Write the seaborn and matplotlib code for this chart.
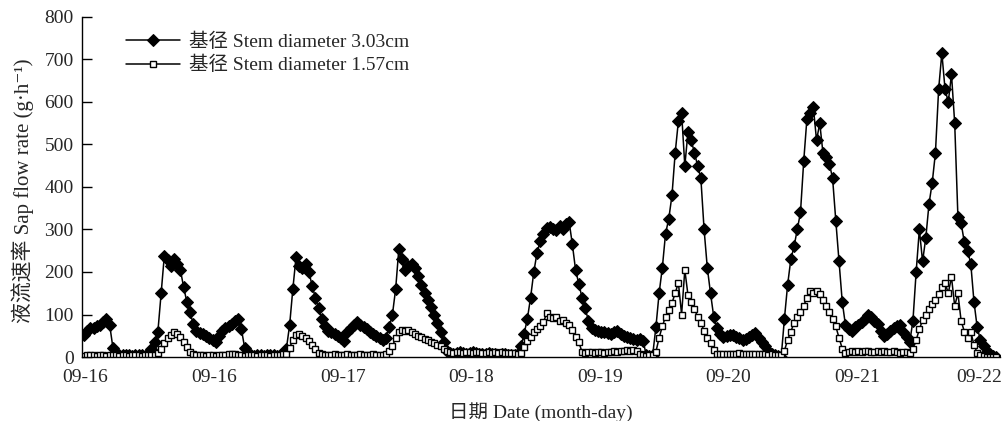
import numpy as np
import pandas as pd
import matplotlib
matplotlib.use("Agg")
import matplotlib.pyplot as plt
import matplotlib.transforms as mtransforms
import seaborn as sns

# ---------------- data ----------------
series_names = ["基径 Stem diameter 3.03cm", "基径 Stem diameter 1.57cm"]
tick_labels = ["09-16", "09-16", "09-17", "09-18", "09-19", "09-20", "09-21", "09-22"]

sap_303 = [
    52, 62, 68, 68, 72, 75, 82, 90, 75, 22,
    8, 5, 4, 5, 4, 3, 4, 5, 4, 3,
    8, 18, 35, 60, 150, 238, 228, 215, 230, 220,
    205, 165, 130, 105, 78, 62, 57, 55, 50, 45,
    40, 35, 50, 62, 68, 72, 78, 85, 90, 65,
    22, 5, 4, 3, 5, 4, 3, 4, 5, 4,
    3, 5, 8, 20, 75, 160, 235, 215, 210, 220,
    200, 168, 140, 115, 90, 72, 62, 58, 55, 50,
    45, 38, 60, 68, 75, 82, 76, 70, 65, 60,
    55, 50, 45, 40, 45, 70, 100, 160, 255, 230,
    205, 215, 220, 210, 190, 170, 150, 135, 118, 100,
    80, 60, 35, 15, 10, 8, 10, 12, 10, 8,
    10, 12, 10, 8, 6, 8, 10, 8, 6, 5,
    6, 8, 5, 4, 5, 8, 25, 55, 90, 140,
    200, 245, 272, 290, 303, 306, 300, 298, 308, 300,
    312, 318, 265, 205, 172, 140, 115, 85, 68, 64,
    62, 60, 58, 56, 55, 60, 62, 55, 50, 47,
    45, 42, 40, 42, 38, 5, 2, 5, 70, 150,
    210, 290, 325, 380, 480, 555, 575, 450, 530, 510,
    480, 450, 420, 300, 210, 150, 95, 68, 55, 48,
    50, 52, 52, 48, 45, 40, 42, 48, 52, 56,
    45, 35, 25, 15, 8, 5, 2, 0, 90, 170,
    230, 260, 300, 340, 460, 560, 575, 588, 510, 550,
    480, 470, 455, 420, 320, 225, 130, 75, 65, 62,
    70, 75, 82, 90, 100, 95, 85, 78, 62, 50,
    55, 62, 68, 72, 75, 60, 48, 35, 85, 200,
    300, 225, 280, 360, 410, 480, 630, 715, 630, 600,
    665, 550, 330, 315, 270, 250, 220, 130, 70, 40,
    25, 12, 8, 3, 0,
]

sap_157 = [
    3, 4, 5, 4, 3, 5, 4, 3, 4, 5,
    4, 3, 5, 4, 3, 4, 5, 4, 3, 4,
    5, 4, 5, 10, 18, 33, 45, 52, 58, 55,
    47, 35, 24, 12, 6, 4, 5, 4, 3, 5,
    4, 3, 5, 4, 5, 6, 8, 6, 5, 4,
    3, 4, 5, 4, 3, 4, 5, 4, 3, 4,
    5, 4, 6, 8, 22, 40, 52, 55, 50, 45,
    38, 28, 18, 10, 6, 5, 4, 5, 6, 5,
    4, 5, 6, 5, 4, 5, 6, 5, 4, 5,
    6, 5, 4, 5, 8, 15, 25, 45, 60, 63,
    62, 63, 58, 55, 50, 47, 42, 40, 35, 32,
    28, 25, 20, 15, 12, 10, 11, 12, 10, 11,
    12, 10, 11, 12, 10, 9, 11, 10, 12, 10,
    11, 10, 9, 10, 9, 8, 10, 24, 38, 48,
    58, 66, 74, 82, 103, 95, 92, 95, 85, 88,
    80, 75, 63, 47, 35, 12, 10, 11, 12, 10,
    11, 12, 10, 11, 12, 13, 12, 14, 15, 16,
    15, 16, 14, 8, 5, 3, 4, 5, 12, 45,
    72, 95, 110, 127, 150, 175, 100, 205, 145, 130,
    112, 95, 80, 62, 45, 32, 16, 8, 6, 7,
    8, 6, 7, 8, 9, 7, 6, 8, 7, 6,
    7, 8, 6, 5, 6, 5, 4, 5, 15, 40,
    60, 80, 95, 105, 120, 140, 155, 150, 155, 148,
    135, 120, 105, 90, 72, 45, 20, 10, 12, 13,
    12, 14, 12, 13, 15, 12, 11, 13, 12, 14,
    12, 11, 13, 12, 10, 11, 12, 10, 20, 40,
    65, 87, 100, 112, 125, 135, 148, 165, 175, 150,
    188, 120, 150, 85, 60, 45, 60, 28, 10, 5,
    2, 1, 0, 0, 0,
]

samples_per_day = 40
n = len(sap_303)
sample_idx = np.arange(n)
df = pd.DataFrame({
    "t": np.concatenate([sample_idx, sample_idx]),
    "rate": np.concatenate([sap_303, sap_157]),
    "series": [series_names[0]] * n + [series_names[1]] * n,
})

# ---------------- style ----------------
sns.set_theme(style="white")
plt.rcParams["font.family"] = ["Liberation Serif", "Noto Sans CJK SC", "DejaVu Serif"]

fig = plt.figure(figsize=(10.02, 4.21), dpi=100)
ax = fig.add_axes([82 / 1002, 64 / 421, 918 / 1002, 340 / 421])

sns.lineplot(data=df[df.series == series_names[0]], x="t", y="rate", ax=ax,
             color="black", linewidth=1.1, marker="D", markersize=5.8,
             markerfacecolor="black", markeredgecolor="black",
             label=series_names[0], estimator=None, sort=False)
sns.lineplot(data=df[df.series == series_names[1]], x="t", y="rate", ax=ax,
             color="black", linewidth=1.1, marker="s", markersize=5.0,
             markerfacecolor="white", markeredgecolor="black", markeredgewidth=1.0,
             label=series_names[1], estimator=None, sort=False)

ax.set_ylim(0, 800)
ax.set_yticks(np.arange(0, 801, 100))
ax.set_xlim(-0.62, 285.1)
ax.set_xticks([0.5 + samples_per_day * k for k in range(len(tick_labels))])
ax.set_xticklabels(tick_labels)

for s in ["top", "right"]:
    ax.spines[s].set_visible(False)
for s in ["left", "bottom"]:
    ax.spines[s].set_color("black")
    ax.spines[s].set_linewidth(1.0)

ax.tick_params(axis="y", direction="in", length=7, width=1, color="black",
               labelsize=14, pad=6, left=True)
ax.tick_params(axis="x", length=0, labelsize=14, pad=9)

# keep the last date label inside the canvas
last = ax.get_xticklabels()[-1]
last.set_transform(last.get_transform() + mtransforms.ScaledTranslation(-6 / 100, 0, fig.dpi_scale_trans))

ax.set_xlabel("日期 Date (month-day)", fontsize=14, labelpad=11)
ax.set_ylabel("液流速率 Sap flow rate (g·h⁻¹)", fontsize=15)
ax.yaxis.set_label_coords(-0.052, 0.49)

leg = ax.legend(loc="upper left", bbox_to_anchor=(0.0400, 0.978), frameon=False,
                fontsize=14, handlelength=2.75, handletextpad=0.45,
                labelspacing=0.28, borderaxespad=0)

fig.savefig("out.png", dpi=100, facecolor="white")
